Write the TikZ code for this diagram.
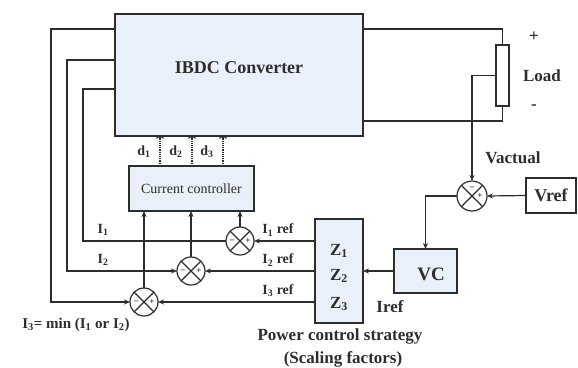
\documentclass[tikz,border=0pt]{standalone}
\usepackage{fontspec}
\setmainfont{Liberation Serif}
\usetikzlibrary{arrows.meta,shapes}
\definecolor{boxblue}{RGB}{234,240,250}
\definecolor{wire}{RGB}{45,45,45}
\tikzset{
  blk/.style={draw,line width=1.2pt,inner sep=0pt,outer sep=0pt,fill=boxblue},
  sumc/.style={circle,draw,line width=1.2pt,minimum size=28pt,inner sep=0pt,outer sep=0pt,fill=white},
  sgn/.style={font=\fontsize{9}{9}\selectfont\bfseries,inner sep=0pt},
  lbl/.style={font=\fontsize{17}{19}\selectfont\bfseries,inner sep=0pt},
  sml/.style={font=\fontsize{14}{16}\selectfont\bfseries,inner sep=0pt}
}
\begin{document}
\begin{tikzpicture}[x=1pt,y=-1pt,>={Stealth[length=6pt,width=5pt]},line width=1.2pt,color=wire]
\useasboundingbox (0,0) rectangle (578,367);
\node[blk,minimum width=248pt,minimum height=122pt] (conv) at (239,75) {};
\node[lbl,font=\fontsize{18}{20}\selectfont\bfseries] (convtxt) at (239,68) {IBDC Converter};
\node[blk,minimum width=125pt,minimum height=45pt,font=\fontsize{14}{16}\selectfont] (cc) at (191.5,188.5) {Current controller};
\node[blk,minimum width=48pt,minimum height=104pt] (zbox) at (339,271) {};
\node[lbl] (z1) at (339,251) {Z\textsubscript{1}};
\node[lbl] (z2) at (339,276) {Z\textsubscript{2}};
\node[lbl] (z3) at (339,304) {Z\textsubscript{3}};
\node[blk,minimum width=63pt,minimum height=44pt] (vc) at (425.5,271) {};
\node[lbl,font=\fontsize{19}{21}\selectfont\bfseries] (vctxt) at (431,274) {VC};
\node[blk,fill=white,minimum width=50pt,minimum height=35pt,font=\fontsize{18}{20}\selectfont\bfseries] (vref) at (551,195.5) {Vref};
\node[draw,fill=white,minimum width=13pt,minimum height=61pt,inner sep=0pt,outer sep=0pt] (load) at (502.5,75.5) {};
\node[sumc] (s1) at (240,241) {};
\node[sumc] (s2) at (191,271) {};
\node[sumc] (s3) at (144,302) {};
\node[sumc,minimum size=30pt] (s4) at (472,196) {};
\foreach \s in {s1,s2,s3,s4}
  \draw (\s.45) -- (\s.225) (\s.135) -- (\s.315);
\foreach \s in {s1,s2,s3}{
  \node[sgn] (\s m) at ([xshift=-8pt]\s.center) {--};
  \node[sgn] (\s p) at ([xshift=8pt]\s.center) {+};
}
\node[sgn] (s4m) at ([yshift=8pt]s4.center) {--};
\node[sgn] (s4p) at ([xshift=8pt]s4.center) {+};
\coordinate (t3) at (115,29);
\coordinate (t2) at (115,60);
\coordinate (t1) at (115,89);
\coordinate (pout) at (363,29);
\coordinate (nout) at (363,121);
\draw[->] (t3) -- ++(-64,0) |- (s3.west);
\draw[->] (t2) -- ++(-48,0) |- (s2.west);
\draw (t1) -- ++(-32,0) |- (s1.west);
\draw[->] (zbox.west |- s1) -- (s1.east);
\draw[->] (zbox.west |- s2) -- (s2.east);
\draw[->] (zbox.west |- s3) -- (s3.east);
\foreach \s in {s1,s2,s3}
  \draw[->] (\s.north) -- (\s.north |- cc.south);
\foreach \i/\dx in {1/-31.5,2/0.5,3/31.5}{
  \draw[densely dotted,line width=1.2pt,-{Arc Barb[length=2.5pt,width=8pt]}] ([xshift=\dx pt]cc.north) -- ([xshift=\dx pt]cc.north |- conv.south);
  \node[sml] (d\i) at ([xshift=\dx pt-16pt,yshift=14pt]cc.north) {d\textsubscript{\i}};
}
\draw (pout) -| (load.north);
\draw (nout) -| (load.south);
\draw[->] (load.west) -| (s4.north);
\draw[->] (vref.west) -- (s4.east);
\draw[->] (s4.west) -| (vc.north);
\draw[->] (vc.west) -- (zbox.east |- vc.west);
\node[lbl] (lplus) at (534,37) {+};
\node[lbl] (lload) at (542,76) {Load};
\node[lbl] (lminus) at (534,107) {-};
\node[lbl] (lvact) at (513,158) {Vactual};
\node[lbl] (liref) at (390,307) {Iref};
\node[lbl] (lpcs) at (340,336) {Power control strategy};
\node[lbl] (lscale) at (343,359) {(Scaling factors)};
\node[sml] (li1) at (103,230) {I\textsubscript{1}};
\node[sml] (li2) at (103,260) {I\textsubscript{2}};
\node[sml] (li1r) at (278,230) {I\textsubscript{1} ref};
\node[sml] (li2r) at (278,260) {I\textsubscript{2} ref};
\node[sml] (li3r) at (278,291) {I\textsubscript{3} ref};
\node[sml,font=\fontsize{15}{17}\selectfont\bfseries] (li3) at (76,325) {I\textsubscript{3}= min (I\textsubscript{1} or I\textsubscript{2})};
\end{tikzpicture}
\end{document}
